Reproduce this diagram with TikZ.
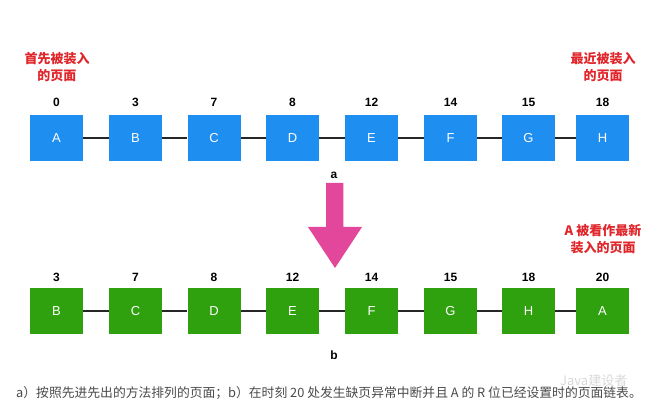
\documentclass[tikz,border=0pt]{standalone}
\usepackage{fontspec}
\setmainfont{Liberation Sans}
\newfontfamily\cjk{Noto Sans CJK SC}
\definecolor{boxblue}{HTML}{1F8EF1}
\definecolor{boxgreen}{HTML}{2FA00E}
\definecolor{arrowpink}{HTML}{E2479C}
\definecolor{redtxt}{HTML}{E0262B}
\definecolor{captxt}{HTML}{4A4A4A}
\begin{document}
\begin{tikzpicture}[x=1pt,y=-1pt,
  page/.style={minimum width=53pt,minimum height=46pt,inner sep=0pt,text=white,font=\fontsize{13}{15}\selectfont},
  bluepage/.style={page,fill=boxblue},
  greenpage/.style={page,fill=boxgreen},
  stamp/.style={font=\bfseries\fontsize{12}{14}\selectfont,inner sep=0pt},
  note/.style={font=\cjk\bfseries\fontsize{13}{17}\selectfont,text=redtxt,align=center,inner sep=0pt},
  link/.style={draw=black!85,line width=1.1pt},
  rowlabel/.style={font=\bfseries\fontsize{12}{14}\selectfont,inner sep=0pt}]
\fill[white] (0,0) rectangle (659,414);
\useasboundingbox (0,0) rectangle (659,414);
% top row
\foreach \n/\x/\t in {A/56.5/0,B/135.5/3,C/214/7,D/292.5/8,E/371.5/12,F/450.5/14,G/528.5/15,H/602.5/18}{
  \node[bluepage] (t\n) at (\x,138) {\n};
  \node[stamp] (tn\n) at (\x,102) {\t};
}
\foreach \a/\b in {A/B,B/C,C/D,D/E,E/F,F/G,G/H}{
  \draw[link] (t\a) -- (t\b);
}
\node[note] (first) at (57,67) {首先被装入\\的页面};
\node[note] (latest) at (603,67) {最近被装入\\的页面};
\node[rowlabel] (la) at (334,175) {a};
% arrow
\fill[arrowpink] (326,183) -- (343.3,183) -- (343.3,227) -- (362,227) -- (335,268) -- (308,227) -- (326,227) -- cycle;
% bottom row
\foreach \n/\m/\x/\t in {1/B/56.5/3,2/C/135.5/7,3/D/214/8,4/E/292.5/12,5/F/371.5/14,6/G/450.5/15,7/H/528.5/18,8/A/602.5/20}{
  \node[greenpage] (b\n) at (\x,311) {\m};
  \node[stamp] (bn\n) at (\x,277) {\t};
}
\foreach \a/\b in {1/2,2/3,3/4,4/5,5/6,6/7,7/8}{
  \draw[link] (b\a) -- (b\b);
}
\node[note] (newest) at (603,239) {A 被看作最新\\装入的页面};
\node[rowlabel] (lb) at (334,355) {b};
% caption
\node[font=\cjk\fontsize{12.8}{14}\selectfont,text=captxt,anchor=west,inner sep=0pt] (cap) at (16,393) {a）按照先进先出的方法排列的页面；b）在时刻 20 处发生缺页异常中断并且 A 的 R 位已经设置时的页面链表。};
\node[font=\cjk\fontsize{13}{15}\selectfont,text=black!15,anchor=west,inner sep=0pt] (wm) at (560,381) {Java建设者};
\end{tikzpicture}
\end{document}
